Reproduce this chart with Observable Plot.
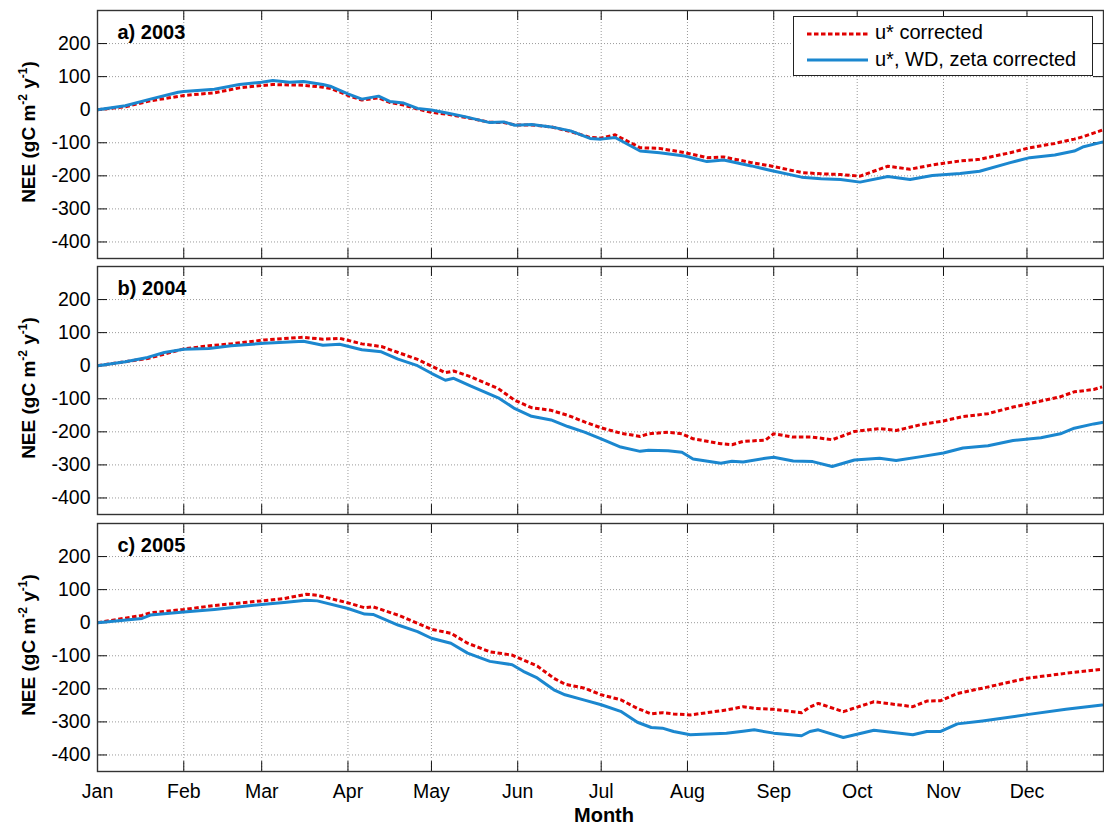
<!DOCTYPE html>
<html>
<head>
<meta charset="utf-8">
<script src="https://cdn.jsdelivr.net/npm/d3@7"></script>
<script src="https://cdn.jsdelivr.net/npm/@observablehq/plot@0.6"></script>
<style>
  body { margin: 0; background: white; }
  #root { position: relative; width: 1104px; height: 825px; background: white; font-family: "Liberation Sans", Arial, sans-serif; overflow: hidden; }
  .panel { position: absolute; left: 0; }
  .ylab { position: absolute; font-weight: bold; font-size: 19px; white-space: nowrap; transform: translate(-50%, -50%) rotate(-90deg); }
  .ylab sup { font-size: 12px; vertical-align: 8px; }
  #legend { position: absolute; left: 793px; top: 16px; width: 298px; height: 58px; border: 1px solid #222; background: white; font-size: 20px; }
  #legend svg { position: absolute; left: 0; top: 0; }
  #legend .lt { position: absolute; left: 81px; white-space: nowrap; }
  #month { position: absolute; left: 604px; top: 815px; transform: translate(-50%, -50%); font-weight: bold; font-size: 20px; }
</style>
</head>
<body>
<div id="root"></div>
<script>
// ---- data (day of year since Jan 1, cumulative NEE gC m-2 y-1) ----
const monthNames = ["Jan","Feb","Mar","Apr","May","Jun","Jul","Aug","Sep","Oct","Nov","Dec"];
const monthStarts = [0,31,59,90,120,151,181,212,243,273,304,334];
const yTicks = [-400,-300,-200,-100,0,100,200];
const seriesNames = ["u* corrected", "u*, WD, zeta corrected"];
const panelLabels = ["a) 2003", "b) 2004", "c) 2005"];

const days2003 = [0,10,19,29,31,42,51,59,63,69,74,81,84,90,95,101,105,110,115,120,126,132,141,146,150,156,163,170,177,181,186,195,202,211,219,225,235,242,253,260,267,274,284,292,300,310,317,328,335,344,351,354,361];
const ustar2003 = [0,9,27,40,43,51,66,73,76,75,74,68,64,43,29,36,22,14,2,-8,-14,-23,-38,-39,-46,-46,-52,-66,-84,-86,-76,-115,-117,-130,-145,-143,-160,-170,-190,-194,-196,-201,-171,-180,-167,-155,-150,-130,-115,-102,-89,-82,-62];
const full2003  = [0,12,32,53,55,62,76,83,88,83,85,76,70,48,32,41,25,20,4,-1,-11,-21,-39,-37,-47,-45,-52,-64,-87,-89,-84,-125,-130,-140,-157,-152,-170,-184,-204,-209,-211,-219,-202,-211,-199,-193,-186,-160,-145,-137,-125,-113,-98];

const days2004 = [0,10,18,24,31,40,48,60,74,81,87,95,102,108,115,120,125,128,134,144,150,156,163,169,175,181,188,195,198,205,210,214,224,228,232,240,243,250,257,264,272,281,287,296,304,311,320,329,339,346,351,358,361];
const ustar2004 = [0,12,22,35,51,60,66,78,86,80,83,66,58,40,19,-1,-21,-16,-33,-69,-105,-127,-135,-150,-170,-188,-204,-214,-206,-201,-206,-221,-236,-239,-229,-225,-206,-216,-216,-224,-199,-190,-196,-178,-167,-154,-145,-125,-107,-94,-79,-72,-64];
const full2004  = [0,12,25,40,50,52,60,68,74,62,65,48,42,20,0,-23,-44,-38,-61,-97,-130,-153,-164,-184,-201,-221,-246,-259,-256,-257,-262,-282,-295,-289,-291,-280,-277,-288,-290,-305,-285,-280,-287,-275,-264,-249,-242,-226,-218,-206,-189,-176,-172];

const days2005 = [0,16,19,31,42,59,67,75,79,90,96,99,108,115,120,127,133,141,149,153,158,164,168,175,181,188,194,199,203,207,213,226,232,236,243,253,256,259,268,279,293,298,303,309,318,334,348,361];
const ustar2005 = [0,22,30,40,52,66,73,86,83,60,45,48,23,-2,-20,-32,-62,-88,-98,-113,-131,-168,-186,-198,-218,-233,-259,-276,-272,-276,-279,-264,-254,-259,-262,-272,-255,-244,-269,-239,-254,-237,-236,-214,-198,-168,-153,-141];
const full2005  = [0,13,23,32,40,55,61,68,66,43,26,25,-7,-27,-47,-62,-92,-117,-127,-147,-167,-203,-218,-234,-248,-268,-301,-317,-319,-329,-339,-334,-328,-324,-334,-342,-329,-324,-347,-325,-339,-329,-329,-306,-297,-278,-262,-249];

const panels = [
  {label: panelLabels[0], days: days2003, red: ustar2003, blue: full2003},
  {label: panelLabels[1], days: days2004, red: ustar2004, blue: full2004},
  {label: panelLabels[2], days: days2005, red: ustar2005, blue: full2005}
];

const RED = "#e00000", BLUE = "#1b87cf";
const xDomain = [0, 361.5], yDomain = [-450, 300];
const tops = [0, 256, 513];
const root = document.getElementById("root");
const font = "'Liberation Sans', Arial, sans-serif";

panels.forEach((p, i) => {
  const last = i === 2;
  const redData = p.days.map((d, j) => ({d, v: p.red[j]}));
  const blueData = p.days.map((d, j) => ({d, v: p.blue[j]}));
  const marks = [
    Plot.gridX(monthStarts, {stroke: "#9a9a9a", strokeOpacity: 1, strokeDasharray: "1,2"}),
    Plot.gridY(yTicks, {stroke: "#9a9a9a", strokeOpacity: 1, strokeDasharray: "1,2"}),
    Plot.ruleX(monthStarts, {y1: -450, y2: -420, stroke: "#111"}),
    Plot.ruleX(monthStarts, {y1: 270, y2: 300, stroke: "#111"}),
    Plot.ruleY(yTicks, {x1: 0, x2: 3.6, stroke: "#111"}),
    Plot.ruleY(yTicks, {x1: 357.9, x2: 361.5, stroke: "#111"}),
    Plot.axisY(yTicks, {tickSize: 0, tickPadding: 7, label: null, tickFormat: d => String(d), fontSize: 19.5}),
    Plot.lineY(redData, {x: "d", y: "v", stroke: RED, strokeWidth: 3, strokeDasharray: "4.5,2.5", strokeLinecap: "butt", clip: true}),
    Plot.lineY(blueData, {x: "d", y: "v", stroke: BLUE, strokeWidth: 3, clip: true}),
    Plot.text([p.label], {frameAnchor: "top-left", dx: 20, dy: 14, lineAnchor: "top", textAnchor: "start", fontWeight: "bold", fontSize: 20, fill: "#000"}),
    Plot.frame({stroke: "#333", strokeWidth: 1.4})
  ];
  if (last) {
    marks.push(Plot.axisX(monthStarts, {tickSize: 0, tickPadding: 13, label: null, fontSize: 19.5, tickFormat: d => monthNames[monthStarts.indexOf(d)]}));
  }
  const chart = Plot.plot({
    width: 1104,
    height: 10 + 248 + (last ? 55 : 2),
    marginTop: 10,
    marginLeft: 97,
    marginRight: 1,
    marginBottom: last ? 55 : 2,
    style: {fontFamily: font, fontSize: "19px", color: "#000", background: "transparent", overflow: "visible"},
    x: {domain: xDomain, axis: null, label: null},
    y: {domain: yDomain, axis: null, label: null},
    marks
  });
  const div = document.createElement("div");
  div.className = "panel";
  div.style.top = tops[i] + "px";
  div.appendChild(chart);
  root.appendChild(div);

  const yl = document.createElement("div");
  yl.className = "ylab";
  yl.style.left = "28px";
  yl.style.top = (tops[i] + 10 + 122) + "px";
  yl.innerHTML = "NEE (gC m<sup>-2</sup> y<sup>-1</sup>)";
  root.appendChild(yl);
});

// legend (panel a)
const legend = document.createElement("div");
legend.id = "legend";
legend.innerHTML = `
  <svg width="298" height="58">
    <line x1="13" x2="74" y1="17" y2="17" stroke="${RED}" stroke-width="3" stroke-dasharray="4.5,2.5"/>
    <line x1="13" x2="74" y1="43" y2="43" stroke="${BLUE}" stroke-width="3"/>
  </svg>
  <div class="lt" style="top:4px">${seriesNames[0]}</div>
  <div class="lt" style="top:31px">${seriesNames[1]}</div>`;
root.appendChild(legend);

const month = document.createElement("div");
month.id = "month";
month.textContent = "Month";
root.appendChild(month);
</script>
</body>
</html>
